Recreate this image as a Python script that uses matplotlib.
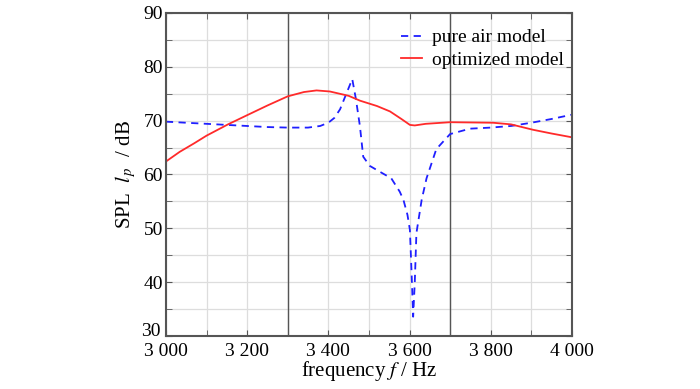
import matplotlib
matplotlib.use("Agg")
import matplotlib.pyplot as plt
from matplotlib.ticker import MultipleLocator, FuncFormatter

plt.rcParams['font.family'] = ['Liberation Serif', 'DejaVu Serif']
plt.rcParams['mathtext.fontset'] = 'stix'

# pure air model (dashed blue)
air_f = [3000, 3050, 3100, 3150, 3200, 3250, 3300, 3350, 3380, 3400, 3415, 3429,
         3445, 3459, 3468, 3478, 3486, 3502, 3527, 3555, 3576, 3585, 3595, 3601,
         3605, 3609, 3613, 3617, 3630, 3642, 3666, 3700, 3749, 3800, 3850, 3900,
         3950, 4000]
air_spl = [69.8, 69.6, 69.4, 69.2, 69.0, 68.8, 68.7, 68.7, 69.0, 69.6, 70.5, 72.1,
           75.1, 77.7, 74.0, 68.9, 63.3, 61.6, 60.5, 59.3, 56.8, 55.3, 52.5, 49.7,
           42.0, 33.6, 40.0, 49.1, 55.3, 59.3, 64.7, 67.5, 68.5, 68.7, 69.0, 69.6,
           70.3, 71.1]

# optimized model (solid red)
opt_f = [3000, 3034, 3070, 3100, 3153, 3200, 3250, 3300, 3340, 3371, 3404, 3450,
         3478, 3520, 3552, 3580, 3601, 3613, 3640, 3700, 3806, 3850, 3904, 3950,
         4000]
opt_spl = [62.4, 64.2, 65.8, 67.2, 69.3, 71.0, 72.8, 74.5, 75.3, 75.6, 75.4, 74.6,
           73.7, 72.7, 71.7, 70.3, 69.2, 69.1, 69.4, 69.7, 69.6, 69.3, 68.3, 67.6,
           66.9]

fig = plt.figure(figsize=(7.0, 3.89), dpi=100)
ax = fig.add_axes([0.237, 0.136, 0.580, 0.831])

ax.plot(air_f, air_spl, color='#1f1fff', lw=1.3, ls=(0, (4, 3)), label='pure air model')
ax.plot(opt_f, opt_spl, color='#ff2a2a', lw=1.3, label='optimized model')

for xv in (3300, 3700):
    ax.axvline(xv, color='#555555', lw=1.0, zorder=1)

ax.set_xlim(3000, 4000)
ax.set_ylim(30, 90)
ax.xaxis.set_major_locator(MultipleLocator(200))
ax.xaxis.set_minor_locator(MultipleLocator(100))
ax.yaxis.set_major_locator(MultipleLocator(10))
ax.yaxis.set_minor_locator(MultipleLocator(5))
ax.xaxis.set_major_formatter(FuncFormatter(lambda v, p: f"{int(v):,}".replace(",", " ")))
# bottom y label is drawn by hand, nudged up so it does not sit on "3 000"
ax.yaxis.set_major_formatter(FuncFormatter(lambda v, p: "" if v <= 30 else f"{int(v)}"))
ax.annotate("30", xy=(0, 30), xycoords=('axes fraction', 'data'), xytext=(-3.5, 3),
            textcoords='offset points', ha='right', va='center', fontsize=14)

ax.grid(which='both', color='#dddddd', lw=0.9, zorder=0)
ax.set_axisbelow(True)
ax.tick_params(which='both', direction='in', top=True, right=True, color='#555555',
               labelsize=14, length=4)
ax.tick_params(axis='x', pad=5)
ax.tick_params(axis='y', pad=2)
for s in ax.spines.values():
    s.set_color('#555555')
    s.set_linewidth(1.5)

ax.set_xlabel('frequency $f$ / Hz', fontsize=15, labelpad=-1)
ax.set_ylabel('SPL  $l_{\\,p}$  / dB', fontsize=15, labelpad=4)

ax.legend(loc='upper right', bbox_to_anchor=(1.0, 0.975), frameon=False, fontsize=14,
          handlelength=1.05, handletextpad=0.55, labelspacing=0.25, borderaxespad=0.1,
          borderpad=0.3)

fig.savefig('out.png', dpi=100)
